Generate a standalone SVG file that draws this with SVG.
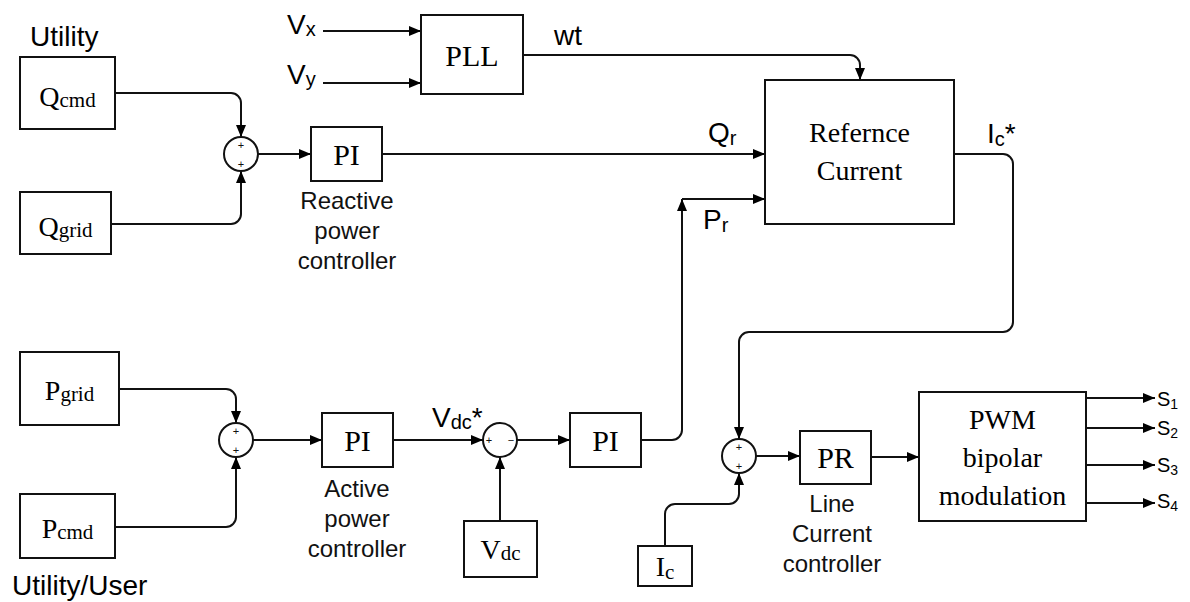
<svg xmlns="http://www.w3.org/2000/svg" width="1190" height="602" viewBox="0 0 1190 602">
<defs>
<marker id="ah" viewBox="0 0 12 10" refX="12" refY="5" markerWidth="12" markerHeight="10" markerUnits="userSpaceOnUse" orient="auto"><path d="M0,0 L12,5 L0,10 z" fill="#000"/></marker>
</defs>
<style>
.box{fill:#fff;stroke:#111;stroke-width:2}
.ln{fill:none;stroke:#111;stroke-width:2}
.arr{marker-end:url(#ah)}
.sj{fill:#fff;stroke:#111;stroke-width:2}
.ser{font-family:"Liberation Serif","Times New Roman",serif;fill:#000}
.sans{font-family:"Liberation Sans",Arial,sans-serif;fill:#000}
.nd{font-size:28px;text-anchor:middle}
.blk{font-size:30px;text-anchor:middle}
.cap{font-size:24px;text-anchor:middle;fill:#111}
.lbl{font-size:28px}
.sg{font-family:"Liberation Sans",Arial,sans-serif;font-size:11px;text-anchor:middle;fill:#111}
</style>
<rect x="0" y="0" width="1190" height="602" fill="#fff"/>

<g id="connectors">
<path class="ln arr" d="M323,31 H421"/>
<path class="ln arr" d="M323,83 H421"/>
<path class="ln arr" d="M523,55 H850 A10,10 0 0 1 860,65 V80"/>
<path class="ln arr" d="M115,93 H231 A10,10 0 0 1 241,103 V137"/>
<path class="ln arr" d="M111,224 H231 A10,10 0 0 0 241,214 V171"/>
<path class="ln arr" d="M258,154 H311"/>
<path class="ln arr" d="M382,154 H765"/>
<path class="ln arr" d="M119,389 H226 A10,10 0 0 1 236,399 V423"/>
<path class="ln arr" d="M115,527 H226 A10,10 0 0 0 236,517 V457"/>
<path class="ln arr" d="M253,440 H322"/>
<path class="ln arr" d="M393,440 H483"/>
<path class="ln arr" d="M517,440 H570"/>
<path class="ln arr" d="M500,521 V457"/>
<path class="ln arr" d="M641,440 H672 A10,10 0 0 0 682,430 V199"/>
<path class="ln arr" d="M682,199 H765"/>
<path class="ln arr" d="M954,154 H1003 A10,10 0 0 1 1013,164 V322 A10,10 0 0 1 1003,332 H749 A10,10 0 0 0 739,342 V439"/>
<path class="ln arr" d="M665,546 V514 A10,10 0 0 1 675,504 H729 A10,10 0 0 0 739,494 V473"/>
<path class="ln arr" d="M756,456 H800"/>
<path class="ln arr" d="M871,457 H919"/>
<path class="ln arr" d="M1086,398 H1155"/>
<path class="ln arr" d="M1082,428 H1155"/>
<path class="ln arr" d="M1086,465 H1155"/>
<path class="ln arr" d="M1086,503 H1155"/>
</g>

<g id="connector-labels">
<text class="sans lbl" x="287" y="34">V<tspan font-size="20" dy="2">x</tspan></text>
<text class="sans lbl" x="287" y="84">V<tspan font-size="20" dy="2">y</tspan></text>
<text class="sans lbl" x="554" y="45">wt</text>
<text class="sans lbl" x="708" y="142">Q<tspan font-size="20" dy="3">r</tspan></text>
<text class="sans lbl" x="703" y="229">P<tspan font-size="20" dy="3">r</tspan></text>
<text class="sans lbl" x="987" y="143">I<tspan font-size="20" dy="3">c</tspan><tspan dy="-3">*</tspan></text>
<text class="sans lbl" x="432" y="427">V<tspan font-size="20" dy="2">dc</tspan><tspan dy="-2">*</tspan></text>
<text class="sans" font-size="20" x="1157" y="406">S<tspan font-size="14" dy="3">1</tspan></text>
<text class="sans" font-size="20" x="1157" y="435">S<tspan font-size="14" dy="3">2</tspan></text>
<text class="sans" font-size="20" x="1157" y="472">S<tspan font-size="14" dy="3">3</tspan></text>
<text class="sans" font-size="20" x="1157" y="508">S<tspan font-size="14" dy="3">4</tspan></text>
<text class="sans lbl" x="30" y="46">Utility</text>
<text class="sans lbl" x="12" y="595">Utility/User</text>
</g>

<g id="node-qcmd"><rect class="box" x="20" y="57" width="95" height="72"/><text class="ser nd" x="67.5" y="106">Q<tspan font-size="21" dy="1">cmd</tspan></text></g>
<g id="node-qgrid"><rect class="box" x="20" y="192" width="91" height="62"/><text class="ser nd" x="65.5" y="236">Q<tspan font-size="21" dy="1">grid</tspan></text></g>
<g id="node-pgrid"><rect class="box" x="20" y="352" width="99" height="73"/><text class="ser nd" x="69.5" y="400">P<tspan font-size="21" dy="1">grid</tspan></text></g>
<g id="node-pcmd"><rect class="box" x="20" y="494" width="95" height="64"/><text class="ser nd" x="67.5" y="538">P<tspan font-size="21" dy="1">cmd</tspan></text></g>
<g id="node-vdc"><rect class="box" x="464" y="521" width="73" height="56"/><text class="ser nd" x="500.5" y="559">V<tspan font-size="21" dy="1">dc</tspan></text></g>
<g id="node-ic"><rect class="box" x="638" y="546" width="54" height="40"/><text class="ser nd" x="665" y="576">I<tspan font-size="21" dy="3">c</tspan></text></g>

<g id="node-pll"><rect class="box" x="421" y="15" width="102" height="79"/><text class="ser blk" font-size="29" x="472" y="66">PLL</text></g>
<g id="node-pi-reactive"><rect class="box" x="311" y="127" width="71" height="54"/><text class="ser blk" x="346.5" y="165">PI</text>
<text class="sans cap" x="347" y="209">Reactive</text><text class="sans cap" x="347" y="239">power</text><text class="sans cap" x="347" y="269">controller</text></g>
<g id="node-pi-active"><rect class="box" x="322" y="413" width="71" height="54"/><text class="ser blk" x="357.5" y="451">PI</text>
<text class="sans cap" x="357" y="497">Active</text><text class="sans cap" x="357" y="527">power</text><text class="sans cap" x="357" y="557">controller</text></g>
<g id="node-pi-dc"><rect class="box" x="570" y="413" width="71" height="54"/><text class="ser blk" x="605.5" y="451">PI</text></g>
<g id="node-pr"><rect class="box" x="800" y="431" width="71" height="53"/><text class="ser blk" x="835.5" y="468">PR</text>
<text class="sans cap" x="832" y="512">Line</text><text class="sans cap" x="832" y="542">Current</text><text class="sans cap" x="832" y="572">controller</text></g>
<g id="node-refcur"><rect class="box" x="765" y="80" width="189" height="144"/><text class="ser nd" x="859.5" y="142">Refernce</text><text class="ser nd" x="859.5" y="180">Current</text></g>
<g id="node-pwm"><rect class="box" x="919" y="392" width="167" height="129"/><text class="ser nd" x="1002.5" y="429">PWM</text><text class="ser nd" x="1002.5" y="467">bipolar</text><text class="ser nd" x="1002.5" y="505">modulation</text></g>

<g id="sum-q"><circle class="sj" cx="241" cy="154" r="17"/><text class="sg" x="241" y="149">+</text><text class="sg" x="241" y="168">+</text></g>
<g id="sum-p"><circle class="sj" cx="236" cy="440" r="17"/><text class="sg" x="236" y="435">+</text><text class="sg" x="236" y="454">+</text></g>
<g id="sum-vdc"><circle class="sj" cx="500" cy="440" r="17"/><text class="sg" x="489" y="444">+</text><text class="sg" x="511" y="444">−</text></g>
<g id="sum-i"><circle class="sj" cx="739" cy="456" r="17"/><text class="sg" x="739" y="451">+</text><text class="sg" x="739" y="470">+</text></g>
</svg>
